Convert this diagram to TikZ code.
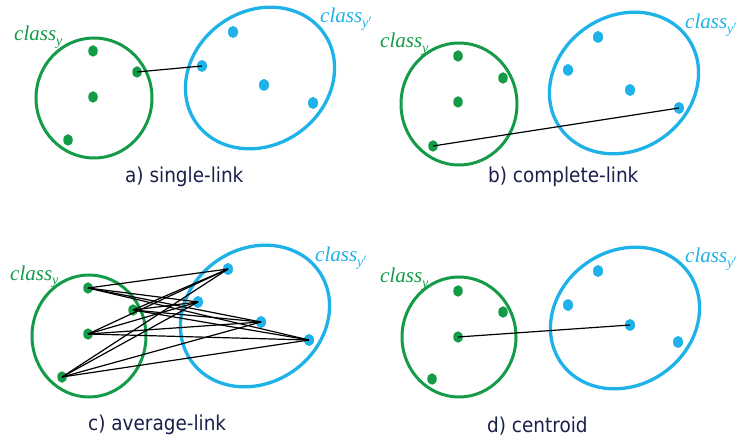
\documentclass[tikz,border=0pt]{standalone}
\usepackage{fontspec}
\newfontfamily\capfont{DejaVu Sans Condensed}
\newfontfamily\clsfont{Liberation Serif}
\usetikzlibrary{shapes.geometric}
\definecolor{cgreen}{HTML}{149B48}
\definecolor{cblue}{HTML}{1EB2E8}
\definecolor{cnavy}{HTML}{1B1F4B}
% class label: italic word with a lowered subscript
\newcommand{\clslabel}[1]{{\clsfont\itshape class\raisebox{-5pt}{\fontsize{14}{16}\selectfont #1}}}
\tikzset{
  gdot/.style={ellipse, fill=cgreen, draw=none, minimum width=9.5pt, minimum height=11.5pt, inner sep=0pt},
  bdot/.style={ellipse, fill=cblue, draw=none, minimum width=10pt, minimum height=12pt, inner sep=0pt},
  gring/.style={draw=cgreen, line width=3pt},
  bring/.style={draw=cblue, line width=3.3pt},
  link/.style={draw=black, line width=1.2pt},
  caption/.style={anchor=base west, text=cnavy, inner sep=0pt, font=\capfont\fontsize{20.5}{24}\selectfont},
  gcls/.style={anchor=base west, text=cgreen, inner sep=0pt, font=\fontsize{21}{24}\selectfont},
  bcls/.style={anchor=base west, text=cblue, inner sep=0pt, font=\fontsize{21}{24}\selectfont},
}
\begin{document}
\begin{tikzpicture}[x=1pt, y=-1pt]
\useasboundingbox (0,0) rectangle (736,438);

% ---------- a) single-link ----------
\draw[gring] (94,98) ellipse [x radius=58pt, y radius=60pt];
\draw[bring, rotate around={35:(260,78)}] (260,78) ellipse [x radius=78pt, y radius=67pt];
\node[gdot] (ag1) at (93,51) {};
\node[gdot] (ag2) at (137,72) {};
\node[gdot] (ag3) at (93,97) {};
\node[gdot] (ag4) at (68,140) {};
\node[bdot] (ab1) at (233,32) {};
\node[bdot] (ab2) at (202,66) {};
\node[bdot] (ab3) at (264,85) {};
\node[bdot] (ab4) at (313,103) {};
\draw[link] (ag2.center) -- (ab2.center);
\node[gcls] (acg) at (14,41) {\clslabel{y}};
\node[bcls] (acb) at (320,23) {\clslabel{y$'$}};
\node[caption] (acap) at (125,183) {a) single-link};

% ---------- b) complete-link ----------
\draw[gring] (459,104) ellipse [x radius=58pt, y radius=61pt];
\draw[bring, rotate around={35:(624,83)}] (624,83) ellipse [x radius=78pt, y radius=67pt];
\node[gdot] (bg1) at (458,56) {};
\node[gdot] (bg2) at (503,78) {};
\node[gdot] (bg3) at (458,102) {};
\node[gdot] (bg4) at (433,146) {};
\node[bdot] (bb1) at (598,37) {};
\node[bdot] (bb2) at (568,70) {};
\node[bdot] (bb3) at (630,90) {};
\node[bdot] (bb4) at (679,108) {};
\draw[link] (bg4.center) -- (bb4.center);
\node[gcls] (bcg) at (380,48) {\clslabel{y}};
\node[bcls] (bcb) at (685,29) {\clslabel{y$'$}};
\node[caption] (bcap) at (488,183) {b) complete-link};

% ---------- c) average-link ----------
\draw[gring] (89,336) ellipse [x radius=57pt, y radius=61pt];
\draw[bring, rotate around={35:(255,316)}] (255,316) ellipse [x radius=78pt, y radius=67pt];
\node[gdot] (cg1) at (88,288) {};
\node[gdot] (cg2) at (133,310) {};
\node[gdot] (cg3) at (88,334) {};
\node[gdot] (cg4) at (62,377) {};
\node[bdot] (cb1) at (228,269) {};
\node[bdot] (cb2) at (198,302) {};
\node[bdot] (cb3) at (261,322) {};
\node[bdot] (cb4) at (309,340) {};
\foreach \g in {1,2,3,4}
  \foreach \b in {1,2,3,4}
    \draw[link] (cg\g.center) -- (cb\b.center);
\node[gcls] (ccg) at (10,280) {\clslabel{y}};
\node[bcls] (ccb) at (315,262) {\clslabel{y$'$}};
\node[caption] (ccap) at (88,430) {c) average-link};

% ---------- d) centroid ----------
\draw[gring] (459,337) ellipse [x radius=57pt, y radius=60pt];
\draw[bring, rotate around={35:(625,318)}] (625,318) ellipse [x radius=78pt, y radius=67pt];
\node[gdot] (dg1) at (458,291) {};
\node[gdot] (dg2) at (503,312) {};
\node[gdot] (dg3) at (458,337) {};
\node[gdot] (dg4) at (432,379) {};
\node[bdot] (db1) at (598,271) {};
\node[bdot] (db2) at (568,305) {};
\node[bdot] (db3) at (630,325) {};
\node[bdot] (db4) at (678,342) {};
\draw[link] (dg3.center) -- (db3.center);
\node[gcls] (dcg) at (380,283) {\clslabel{y}};
\node[bcls] (dcb) at (685,263) {\clslabel{y$'$}};
\node[caption] (dcap) at (487,432) {d) centroid};
\end{tikzpicture}
\end{document}
